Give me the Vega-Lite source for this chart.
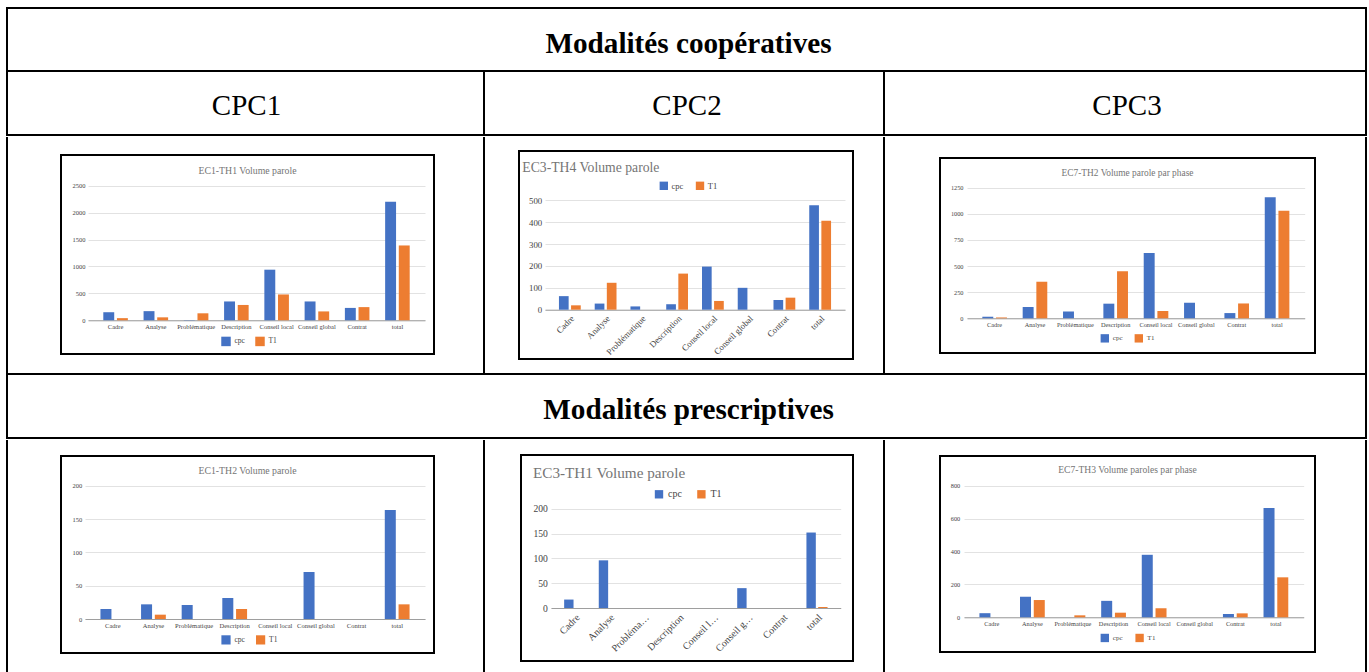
{
"$schema": "https://vega.github.io/schema/vega-lite/v6.json",
"padding": {"left": 6, "top": 7, "right": 0, "bottom": 0},
"background": "white",
"data": {"values": [{}]},
"datasets": {
"c1": [
{"phase":"Cadre","serie":"cpc","value":150},{"phase":"Cadre","serie":"T1","value":40},
{"phase":"Analyse","serie":"cpc","value":170},{"phase":"Analyse","serie":"T1","value":55},
{"phase":"Problématique","serie":"cpc","value":5},{"phase":"Problématique","serie":"T1","value":130},
{"phase":"Description","serie":"cpc","value":350},{"phase":"Description","serie":"T1","value":285},
{"phase":"Conseil local","serie":"cpc","value":940},{"phase":"Conseil local","serie":"T1","value":480},
{"phase":"Conseil global","serie":"cpc","value":350},{"phase":"Conseil global","serie":"T1","value":165},
{"phase":"Contrat","serie":"cpc","value":230},{"phase":"Contrat","serie":"T1","value":245},
{"phase":"total","serie":"cpc","value":2200},{"phase":"total","serie":"T1","value":1390}],
"c2": [
{"phase":"Cadre","serie":"cpc","value":62},{"phase":"Cadre","serie":"T1","value":20},
{"phase":"Analyse","serie":"cpc","value":28},{"phase":"Analyse","serie":"T1","value":123},
{"phase":"Problématique","serie":"cpc","value":15},{"phase":"Problématique","serie":"T1","value":0},
{"phase":"Description","serie":"cpc","value":25},{"phase":"Description","serie":"T1","value":165},
{"phase":"Conseil local","serie":"cpc","value":197},{"phase":"Conseil local","serie":"T1","value":40},
{"phase":"Conseil global","serie":"cpc","value":100},{"phase":"Conseil global","serie":"T1","value":0},
{"phase":"Contrat","serie":"cpc","value":44},{"phase":"Contrat","serie":"T1","value":55},
{"phase":"total","serie":"cpc","value":477},{"phase":"total","serie":"T1","value":407}],
"c3": [
{"phase":"Cadre","serie":"cpc","value":15},{"phase":"Cadre","serie":"T1","value":8},
{"phase":"Analyse","serie":"cpc","value":108},{"phase":"Analyse","serie":"T1","value":350},
{"phase":"Problématique","serie":"cpc","value":65},{"phase":"Problématique","serie":"T1","value":0},
{"phase":"Description","serie":"cpc","value":140},{"phase":"Description","serie":"T1","value":450},
{"phase":"Conseil local","serie":"cpc","value":625},{"phase":"Conseil local","serie":"T1","value":70},
{"phase":"Conseil global","serie":"cpc","value":148},{"phase":"Conseil global","serie":"T1","value":0},
{"phase":"Contrat","serie":"cpc","value":50},{"phase":"Contrat","serie":"T1","value":142},
{"phase":"total","serie":"cpc","value":1158},{"phase":"total","serie":"T1","value":1030}],
"c4": [
{"phase":"Cadre","serie":"cpc","value":15},{"phase":"Cadre","serie":"T1","value":0},
{"phase":"Analyse","serie":"cpc","value":22},{"phase":"Analyse","serie":"T1","value":6.5},
{"phase":"Problématique","serie":"cpc","value":21},{"phase":"Problématique","serie":"T1","value":0},
{"phase":"Description","serie":"cpc","value":31.5},{"phase":"Description","serie":"T1","value":15},
{"phase":"Conseil local","serie":"cpc","value":0},{"phase":"Conseil local","serie":"T1","value":0},
{"phase":"Conseil global","serie":"cpc","value":70.5},{"phase":"Conseil global","serie":"T1","value":0},
{"phase":"Contrat","serie":"cpc","value":0},{"phase":"Contrat","serie":"T1","value":0},
{"phase":"total","serie":"cpc","value":163.5},{"phase":"total","serie":"T1","value":22}],
"c5": [
{"phase":"Cadre","serie":"cpc","value":17},{"phase":"Cadre","serie":"T1","value":0},
{"phase":"Analyse","serie":"cpc","value":96},{"phase":"Analyse","serie":"T1","value":0},
{"phase":"Problématique","serie":"cpc","value":0},{"phase":"Problématique","serie":"T1","value":0},
{"phase":"Description","serie":"cpc","value":0},{"phase":"Description","serie":"T1","value":0},
{"phase":"Conseil local","serie":"cpc","value":0},{"phase":"Conseil local","serie":"T1","value":0},
{"phase":"Conseil global","serie":"cpc","value":40},{"phase":"Conseil global","serie":"T1","value":0},
{"phase":"Contrat","serie":"cpc","value":0},{"phase":"Contrat","serie":"T1","value":0},
{"phase":"total","serie":"cpc","value":152},{"phase":"total","serie":"T1","value":2}],
"c6": [
{"phase":"Cadre","serie":"cpc","value":25},{"phase":"Cadre","serie":"T1","value":0},
{"phase":"Analyse","serie":"cpc","value":125},{"phase":"Analyse","serie":"T1","value":105},
{"phase":"Problématique","serie":"cpc","value":0},{"phase":"Problématique","serie":"T1","value":12},
{"phase":"Description","serie":"cpc","value":100},{"phase":"Description","serie":"T1","value":28},
{"phase":"Conseil local","serie":"cpc","value":380},{"phase":"Conseil local","serie":"T1","value":55},
{"phase":"Conseil global","serie":"cpc","value":0},{"phase":"Conseil global","serie":"T1","value":0},
{"phase":"Contrat","serie":"cpc","value":20},{"phase":"Contrat","serie":"T1","value":24},
{"phase":"total","serie":"cpc","value":664},{"phase":"total","serie":"T1","value":243}]
},
"config": {"view": {"stroke": null}, "concat": {"spacing": 0}, "font": "Liberation Serif"},
"spacing": 0,
"resolve": {"scale": {"x": "independent", "y": "independent", "xOffset": "independent", "color": "independent"}, "legend": {"color": "independent"}},
"vconcat": [
{"width": 1361, "height": 2, "view": {"fill": "#000", "stroke": null}, "mark": {"type": "text", "text": "", "fontSize": 1}},
{"spacing": 0, "hconcat": [
 {"width": 2, "height": 61, "view": {"fill": "#000", "stroke": null}, "mark": {"type": "text", "text": "", "fontSize": 1}},
 {"width": 1357, "height": 61, "mark": {"type": "text", "text": "Modalités coopératives", "font": "Liberation Serif", "fontSize": 29.2, "fontWeight": "bold", "color": "#000", "dy": 4, "dx": 2}},
 {"width": 2, "height": 61, "view": {"fill": "#000", "stroke": null}, "mark": {"type": "text", "text": "", "fontSize": 1}}
]},
{"width": 1361, "height": 2, "view": {"fill": "#000", "stroke": null}, "mark": {"type": "text", "text": "", "fontSize": 1}},
{"spacing": 0, "hconcat": [
 {"width": 2, "height": 62, "view": {"fill": "#000", "stroke": null}, "mark": {"type": "text", "text": "", "fontSize": 1}},
 {"width": 475, "height": 62, "mark": {"type": "text", "text": "CPC1", "font": "Liberation Serif", "fontSize": 29, "color": "#000", "dy": 3, "dx": 1}},
 {"width": 2, "height": 62, "view": {"fill": "#000", "stroke": null}, "mark": {"type": "text", "text": "", "fontSize": 1}},
 {"width": 398, "height": 62, "mark": {"type": "text", "text": "CPC2", "font": "Liberation Serif", "fontSize": 29, "color": "#000", "dy": 3, "dx": 3}},
 {"width": 2, "height": 62, "view": {"fill": "#000", "stroke": null}, "mark": {"type": "text", "text": "", "fontSize": 1}},
 {"width": 480, "height": 62, "mark": {"type": "text", "text": "CPC3", "font": "Liberation Serif", "fontSize": 29, "color": "#000", "dy": 3, "dx": 2}},
 {"width": 2, "height": 62, "view": {"fill": "#000", "stroke": null}, "mark": {"type": "text", "text": "", "fontSize": 1}}
]},
{"width": 1361, "height": 2, "view": {"fill": "#000", "stroke": null}, "mark": {"type": "text", "text": "", "fontSize": 1}},
{"spacing": 0,
 "resolve": {"scale": {"x": "independent", "y": "independent", "xOffset": "independent", "color": "independent"}, "legend": {"color": "independent"}},
 "hconcat": [
 {"width": 2, "height": 236, "view": {"fill": "#000", "stroke": null}, "mark": {"type": "text", "text": "", "fontSize": 1}},
 {"width": 52, "height": 1, "mark": {"type": "text", "text": "", "fontSize": 1}},
 {"spacing": 0,
  "resolve": {"scale": {"x": "independent", "y": "independent", "xOffset": "independent", "color": "independent"}, "legend": {"color": "independent"}},
  "vconcat": [
  {"width": 1, "height": 17, "mark": {"type": "text", "text": "", "fontSize": 1}},
  {"width": 373, "height": 199,
   "view": {"stroke": "#000", "strokeWidth": 2, "fill": "#fff"},
   "data": {"name": "c1"},
   "title": {"text": "EC1-TH1 Volume parole", "anchor": "middle", "frame": "group", "offset": -28.5, "baseline": "alphabetic", "font": "Liberation Serif", "fontSize": 9.8, "fontWeight": "normal", "color": "#757575"},
   "mark": {"type": "bar"},
   "encoding": {
    "x": {"field": "phase", "type": "nominal", "sort": ["Cadre","Analyse","Problématique","Description","Conseil local","Conseil global","Contrat","total"],
      "scale": {"range": [27, 364], "paddingInner": 0.39, "paddingOuter": 0.38},
      "axis": {"title": null, "offset": -33.7, "labelAngle": 0, "ticks": false, "grid": false, "domainColor": "#9e9e9e", "labelFont": "Liberation Serif", "labelFontSize": 6.5, "labelColor": "#444", "labelPadding": 3.5}},
    "xOffset": {"field": "serie", "type": "nominal", "sort": ["cpc","T1"], "scale": {"paddingInner": 0.2, "paddingOuter": 0}},
    "y": {"field": "value", "type": "quantitative", "scale": {"domain": [0, 2500], "range": [165.3, 30.7], "nice": false},
      "axis": {"title": null, "format": "d", "offset": -27, "values": [0,500,1000,1500,2000,2500], "domain": false, "ticks": false, "gridColor": "#e2e2e2", "labelFont": "Liberation Serif", "labelFontSize": 6.5, "labelColor": "#444", "labelPadding": 3}},
    "color": {"field": "serie", "type": "nominal", "sort": ["cpc","T1"], "scale": {"domain": ["cpc","T1"], "range": ["#4472C4","#ED7D31"]},
      "legend": {"title": null, "orient": "none", "legendX": 160, "legendY": 181.3, "direction": "horizontal", "symbolType": "square", "symbolSize": 90, "symbolStrokeWidth": 0, "labelFont": "Liberation Serif", "labelFontSize": 7.5, "labelColor": "#444", "labelOffset": 3.5, "columnPadding": 10, "padding": 0}}
   }
  }
 ]},
 {"width": 48, "height": 1, "mark": {"type": "text", "text": "", "fontSize": 1}},
 {"width": 2, "height": 236, "view": {"fill": "#000", "stroke": null}, "mark": {"type": "text", "text": "", "fontSize": 1}},
 {"width": 33, "height": 1, "mark": {"type": "text", "text": "", "fontSize": 1}},
 {"spacing": 0,
  "resolve": {"scale": {"x": "independent", "y": "independent", "xOffset": "independent", "color": "independent"}, "legend": {"color": "independent"}},
  "vconcat": [
  {"width": 1, "height": 13, "mark": {"type": "text", "text": "", "fontSize": 1}},
  {"width": 334, "height": 208,
   "view": {"stroke": "#000", "strokeWidth": 2, "fill": "#fff"},
   "data": {"name": "c2"},
   "title": {"text": "EC3-TH4 Volume parole", "anchor": "start", "frame": "group", "dx": 3.3, "offset": -34.7, "baseline": "alphabetic", "font": "Liberation Serif", "fontSize": 13.7, "fontWeight": "normal", "color": "#757575"},
   "mark": {"type": "bar"},
   "encoding": {
    "x": {"field": "phase", "type": "nominal", "sort": ["Cadre","Analyse","Problématique","Description","Conseil local","Conseil global","Contrat","total"],
      "scale": {"range": [26, 326], "paddingInner": 0.39, "paddingOuter": 0.39},
      "axis": {"title": null, "offset": -49.3, "labelAngle": -45, "ticks": false, "grid": false, "domainColor": "#9e9e9e", "labelFont": "Liberation Serif", "labelFontSize": 8.8, "labelColor": "#444", "labelPadding": 4}},
    "xOffset": {"field": "serie", "type": "nominal", "sort": ["cpc","T1"], "scale": {"paddingInner": 0.2, "paddingOuter": 0}},
    "y": {"field": "value", "type": "quantitative", "scale": {"domain": [0, 500], "range": [158.7, 49.3], "nice": false},
      "axis": {"title": null, "format": "d", "offset": -26, "values": [0,100,200,300,400,500], "domain": false, "ticks": false, "gridColor": "#e2e2e2", "labelFont": "Liberation Serif", "labelFontSize": 8.8, "labelColor": "#444", "labelPadding": 3.3}},
    "color": {"field": "serie", "type": "nominal", "sort": ["cpc","T1"], "scale": {"domain": ["cpc","T1"], "range": ["#4472C4","#ED7D31"]},
      "legend": {"title": null, "orient": "none", "legendX": 140.3, "legendY": 30.3, "direction": "horizontal", "symbolType": "square", "symbolSize": 70, "symbolStrokeWidth": 0, "labelFont": "Liberation Serif", "labelFontSize": 8.5, "labelColor": "#444", "labelOffset": 3.3, "columnPadding": 11.2, "padding": 0}}
   }
  }
 ]},
 {"width": 29, "height": 1, "mark": {"type": "text", "text": "", "fontSize": 1}},
 {"width": 2, "height": 236, "view": {"fill": "#000", "stroke": null}, "mark": {"type": "text", "text": "", "fontSize": 1}},
 {"width": 54, "height": 1, "mark": {"type": "text", "text": "", "fontSize": 1}},
 {"spacing": 0,
  "resolve": {"scale": {"x": "independent", "y": "independent", "xOffset": "independent", "color": "independent"}, "legend": {"color": "independent"}},
  "vconcat": [
  {"width": 1, "height": 20, "mark": {"type": "text", "text": "", "fontSize": 1}},
  {"width": 375, "height": 195,
   "view": {"stroke": "#000", "strokeWidth": 2, "fill": "#fff"},
   "data": {"name": "c3"},
   "title": {"text": "EC7-TH2 Volume parole par phase", "anchor": "middle", "frame": "group", "offset": -27.4, "baseline": "alphabetic", "font": "Liberation Serif", "fontSize": 9.4, "fontWeight": "normal", "color": "#757575"},
   "mark": {"type": "bar"},
   "encoding": {
    "x": {"field": "phase", "type": "nominal", "sort": ["Cadre","Analyse","Problématique","Description","Conseil local","Conseil global","Contrat","total"],
      "scale": {"range": [27, 364.7], "paddingInner": 0.39, "paddingOuter": 0.38},
      "axis": {"title": null, "offset": -34.7, "labelAngle": 0, "ticks": false, "grid": false, "domainColor": "#9e9e9e", "labelFont": "Liberation Serif", "labelFontSize": 6.3, "labelColor": "#444", "labelPadding": 2.8}},
    "xOffset": {"field": "serie", "type": "nominal", "sort": ["cpc","T1"], "scale": {"paddingInner": 0.2, "paddingOuter": 0}},
    "y": {"field": "value", "type": "quantitative", "scale": {"domain": [0, 1250], "range": [160.3, 29.7], "nice": false},
      "axis": {"title": null, "format": "d", "offset": -27, "values": [0,250,500,750,1000,1250], "domain": false, "ticks": false, "gridColor": "#e2e2e2", "labelFont": "Liberation Serif", "labelFontSize": 6.3, "labelColor": "#444", "labelPadding": 4}},
    "color": {"field": "serie", "type": "nominal", "sort": ["cpc","T1"], "scale": {"domain": ["cpc","T1"], "range": ["#4472C4","#ED7D31"]},
      "legend": {"title": null, "orient": "none", "legendX": 160.3, "legendY": 175.7, "direction": "horizontal", "symbolType": "square", "symbolSize": 70, "symbolStrokeWidth": 0, "labelFont": "Liberation Serif", "labelFontSize": 7, "labelColor": "#444", "labelOffset": 3.5, "columnPadding": 11, "padding": 0}}
   }
  }
 ]},
 {"width": 49, "height": 1, "mark": {"type": "text", "text": "", "fontSize": 1}},
 {"width": 2, "height": 236, "view": {"fill": "#000", "stroke": null}, "mark": {"type": "text", "text": "", "fontSize": 1}}
]},
{"width": 1361, "height": 2, "view": {"fill": "#000", "stroke": null}, "mark": {"type": "text", "text": "", "fontSize": 1}},
{"spacing": 0, "hconcat": [
 {"width": 2, "height": 62, "view": {"fill": "#000", "stroke": null}, "mark": {"type": "text", "text": "", "fontSize": 1}},
 {"width": 1357, "height": 62, "mark": {"type": "text", "text": "Modalités prescriptives", "font": "Liberation Serif", "fontSize": 29.2, "fontWeight": "bold", "color": "#000", "dy": 4, "dx": 2}},
 {"width": 2, "height": 62, "view": {"fill": "#000", "stroke": null}, "mark": {"type": "text", "text": "", "fontSize": 1}}
]},
{"width": 1361, "height": 2, "view": {"fill": "#000", "stroke": null}, "mark": {"type": "text", "text": "", "fontSize": 1}},
{"spacing": 0,
 "resolve": {"scale": {"x": "independent", "y": "independent", "xOffset": "independent", "color": "independent"}, "legend": {"color": "independent"}},
 "hconcat": [
 {"width": 2, "height": 234, "view": {"fill": "#000", "stroke": null}, "mark": {"type": "text", "text": "", "fontSize": 1}},
 {"width": 52, "height": 1, "mark": {"type": "text", "text": "", "fontSize": 1}},
 {"spacing": 0,
  "resolve": {"scale": {"x": "independent", "y": "independent", "xOffset": "independent", "color": "independent"}, "legend": {"color": "independent"}},
  "vconcat": [
  {"width": 1, "height": 15, "mark": {"type": "text", "text": "", "fontSize": 1}},
  {"width": 373, "height": 197,
   "view": {"stroke": "#000", "strokeWidth": 2, "fill": "#fff"},
   "data": {"name": "c4"},
   "title": {"text": "EC1-TH2 Volume parole", "anchor": "middle", "frame": "group", "offset": -27.8, "baseline": "alphabetic", "font": "Liberation Serif", "fontSize": 9.8, "fontWeight": "normal", "color": "#757575"},
   "mark": {"type": "bar"},
   "encoding": {
    "x": {"field": "phase", "type": "nominal", "sort": ["Cadre","Analyse","Problématique","Description","Conseil local","Conseil global","Contrat","total"],
      "scale": {"range": [24, 364], "paddingInner": 0.39, "paddingOuter": 0.38},
      "axis": {"title": null, "offset": -34, "labelAngle": 0, "ticks": false, "grid": false, "domainColor": "#9e9e9e", "labelFont": "Liberation Serif", "labelFontSize": 6.5, "labelColor": "#444", "labelPadding": 3.5}},
    "xOffset": {"field": "serie", "type": "nominal", "sort": ["cpc","T1"], "scale": {"paddingInner": 0.2, "paddingOuter": 0}},
    "y": {"field": "value", "type": "quantitative", "scale": {"domain": [0, 200], "range": [163, 29.7], "nice": false},
      "axis": {"title": null, "format": "d", "offset": -24, "values": [0,50,100,150,200], "domain": false, "ticks": false, "gridColor": "#e2e2e2", "labelFont": "Liberation Serif", "labelFontSize": 6.5, "labelColor": "#444", "labelPadding": 3.3}},
    "color": {"field": "serie", "type": "nominal", "sort": ["cpc","T1"], "scale": {"domain": ["cpc","T1"], "range": ["#4472C4","#ED7D31"]},
      "legend": {"title": null, "orient": "none", "legendX": 160, "legendY": 178.7, "direction": "horizontal", "symbolType": "square", "symbolSize": 85, "symbolStrokeWidth": 0, "labelFont": "Liberation Serif", "labelFontSize": 7.5, "labelColor": "#444", "labelOffset": 3.5, "columnPadding": 10.6, "padding": 0}}
   }
  }
 ]},
 {"width": 48, "height": 1, "mark": {"type": "text", "text": "", "fontSize": 1}},
 {"width": 2, "height": 234, "view": {"fill": "#000", "stroke": null}, "mark": {"type": "text", "text": "", "fontSize": 1}},
 {"width": 35, "height": 1, "mark": {"type": "text", "text": "", "fontSize": 1}},
 {"spacing": 0,
  "resolve": {"scale": {"x": "independent", "y": "independent", "xOffset": "independent", "color": "independent"}, "legend": {"color": "independent"}},
  "vconcat": [
  {"width": 1, "height": 14, "mark": {"type": "text", "text": "", "fontSize": 1}},
  {"width": 332, "height": 206,
   "view": {"stroke": "#000", "strokeWidth": 2, "fill": "#fff"},
   "data": {"name": "c5"},
   "title": {"text": "EC3-TH1 Volume parole", "anchor": "start", "frame": "group", "dx": 12, "offset": -38.2, "baseline": "alphabetic", "font": "Liberation Serif", "fontSize": 15.2, "fontWeight": "normal", "color": "#757575"},
   "mark": {"type": "bar"},
   "encoding": {
    "x": {"field": "phase", "type": "nominal", "sort": ["Cadre","Analyse","Problématique","Description","Conseil local","Conseil global","Contrat","total"],
      "scale": {"range": [30, 319.7], "paddingInner": 0.39, "paddingOuter": 0.38},
      "axis": {"title": null, "offset": -53, "labelAngle": -45, "ticks": false, "grid": false, "domainColor": "#9e9e9e", "labelFont": "Liberation Serif", "labelFontSize": 10, "labelLimit": 49.5, "labelColor": "#444", "labelPadding": 4}},
    "xOffset": {"field": "serie", "type": "nominal", "sort": ["cpc","T1"], "scale": {"paddingInner": 0.2, "paddingOuter": 0}},
    "y": {"field": "value", "type": "quantitative", "scale": {"domain": [0, 200], "range": [153, 53.7], "nice": false},
      "axis": {"title": null, "format": "d", "offset": -30, "values": [0,50,100,150,200], "domain": false, "ticks": false, "gridColor": "#e2e2e2", "labelFont": "Liberation Serif", "labelFontSize": 9.6, "labelColor": "#444", "labelPadding": 3.7}},
    "color": {"field": "serie", "type": "nominal", "sort": ["cpc","T1"], "scale": {"domain": ["cpc","T1"], "range": ["#4472C4","#ED7D31"]},
      "legend": {"title": null, "orient": "none", "legendX": 133, "legendY": 34.3, "direction": "horizontal", "symbolType": "square", "symbolSize": 70, "symbolStrokeWidth": 0, "labelFont": "Liberation Serif", "labelFontSize": 10, "labelColor": "#444", "labelOffset": 4, "columnPadding": 14.4, "padding": 0}}
   }
  }
 ]},
 {"width": 29, "height": 1, "mark": {"type": "text", "text": "", "fontSize": 1}},
 {"width": 2, "height": 234, "view": {"fill": "#000", "stroke": null}, "mark": {"type": "text", "text": "", "fontSize": 1}},
 {"width": 54, "height": 1, "mark": {"type": "text", "text": "", "fontSize": 1}},
 {"spacing": 0,
  "resolve": {"scale": {"x": "independent", "y": "independent", "xOffset": "independent", "color": "independent"}, "legend": {"color": "independent"}},
  "vconcat": [
  {"width": 1, "height": 15, "mark": {"type": "text", "text": "", "fontSize": 1}},
  {"width": 375, "height": 196,
   "view": {"stroke": "#000", "strokeWidth": 2, "fill": "#fff"},
   "data": {"name": "c6"},
   "title": {"text": "EC7-TH3 Volume paroles par phase", "anchor": "middle", "frame": "group", "offset": -26.9, "baseline": "alphabetic", "font": "Liberation Serif", "fontSize": 9.6, "fontWeight": "normal", "color": "#757575"},
   "mark": {"type": "bar"},
   "encoding": {
    "x": {"field": "phase", "type": "nominal", "sort": ["Cadre","Analyse","Problématique","Description","Conseil local","Conseil global","Contrat","total"],
      "scale": {"range": [24, 363.7], "paddingInner": 0.39, "paddingOuter": 0.38},
      "axis": {"title": null, "offset": -34.7, "labelAngle": 0, "ticks": false, "grid": false, "domainColor": "#9e9e9e", "labelFont": "Liberation Serif", "labelFontSize": 6.3, "labelColor": "#444", "labelPadding": 3}},
    "xOffset": {"field": "serie", "type": "nominal", "sort": ["cpc","T1"], "scale": {"paddingInner": 0.2, "paddingOuter": 0}},
    "y": {"field": "value", "type": "quantitative", "scale": {"domain": [0, 800], "range": [161.3, 29.7], "nice": false},
      "axis": {"title": null, "format": "d", "offset": -24, "values": [0,200,400,600,800], "domain": false, "ticks": false, "gridColor": "#e2e2e2", "labelFont": "Liberation Serif", "labelFontSize": 6.3, "labelColor": "#444", "labelPadding": 4.3}},
    "color": {"field": "serie", "type": "nominal", "sort": ["cpc","T1"], "scale": {"domain": ["cpc","T1"], "range": ["#4472C4","#ED7D31"]},
      "legend": {"title": null, "orient": "none", "legendX": 160.3, "legendY": 177.3, "direction": "horizontal", "symbolType": "square", "symbolSize": 70, "symbolStrokeWidth": 0, "labelFont": "Liberation Serif", "labelFontSize": 7, "labelColor": "#444", "labelOffset": 3.5, "columnPadding": 11.8, "padding": 0}}
   }
  }
 ]},
 {"width": 49, "height": 1, "mark": {"type": "text", "text": "", "fontSize": 1}},
 {"width": 2, "height": 234, "view": {"fill": "#000", "stroke": null}, "mark": {"type": "text", "text": "", "fontSize": 1}}
]}
]
}
